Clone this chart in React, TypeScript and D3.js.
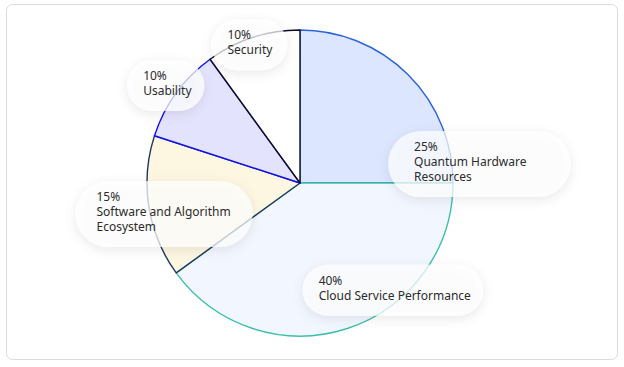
import React, { useRef, useEffect } from 'react';
import * as d3 from 'd3';

// slice data, clockwise from 12 o'clock
const categories = ['Quantum Hardware Resources', 'Cloud Service Performance', 'Software and Algorithm Ecosystem', 'Usability', 'Security'];
const values = [25, 40, 15, 10, 10];
const fills = ['#dce6ff', '#f2f6ff', '#fdf6e1', '#e3e3fd', '#ffffff'];
const strokes = ['#2a62d8', '#3dbfae', '#1b3a5e', '#1010ee', '#0c0c24'];
// label lines as drawn in the picture
const labelLines = [
    ['25%', 'Quantum Hardware', 'Resources'],
    ['40%', 'Cloud Service Performance'],
    ['15%', 'Software and Algorithm', 'Ecosystem'],
    ['10%', 'Usability'],
    ['10%', 'Security'],
];
// label offsets from slice centroid, and box padding
const labelOffsets = [[60, 22], [-5, 29], [-128, 6], [-95, -58], [-49, -71]];
const padRight = [44, 12, 22, 12, 14];
const padLeft = [26, 16, 21, 16, 16];

export default function App() {
    const svgRef = useRef(null);
    useEffect(function () {
        const width = 624, height = 367;
        const cx = 300, cy = 183, r = 153;
        const svg = d3.select(svgRef.current)
            .attr('width', width)
            .attr('height', height);
        svg.selectAll('*').remove();

        const defs = svg.append('defs');
        const f = defs.append('filter').attr('id', 'shadow')
            .attr('x', '-30%').attr('y', '-50%').attr('width', '160%').attr('height', '200%');
        f.append('feDropShadow')
            .attr('dx', 0).attr('dy', 3)
            .attr('stdDeviation', 6)
            .attr('flood-color', '#000')
            .attr('flood-opacity', 0.12);

        // card
        svg.append('rect')
            .attr('x', 6.5).attr('y', 4.5)
            .attr('width', 611).attr('height', 355)
            .attr('rx', 6)
            .attr('fill', '#fff')
            .attr('stroke', '#dcdcdc');

        const pie = d3.pie().sort(null).value(function (d) { return d; });
        const arcs = pie(values);
        const arc = d3.arc().innerRadius(0).outerRadius(r);

        const g = svg.append('g').attr('transform', 'translate(' + cx + ',' + cy + ')');
        g.selectAll('path.slice')
            .data(arcs)
            .enter().append('path')
            .attr('class', 'slice')
            .attr('d', arc)
            .attr('fill', function (d, i) { return fills[i]; })
            .attr('stroke', function (d, i) { return strokes[i]; })
            .attr('stroke-width', 1.4)
            .attr('stroke-linejoin', 'round');

        // labels
        const lineH = 15;
        arcs.forEach(function (d, i) {
            const c = arc.centroid(d);
            const tx = c[0] + labelOffsets[i][0];
            const ty = c[1] + labelOffsets[i][1];
            const lg = g.append('g');
            const box = lg.append('rect');
            let x0 = Infinity, x1 = -Infinity;
            labelLines[i].forEach(function (s, j) {
                const t = lg.append('text')
                    .attr('x', tx)
                    .attr('y', ty + j * lineH)
                    .attr('font-family', '"Noto Sans", "Open Sans", sans-serif')
                    .attr('font-size', 12)
                    .attr('fill', '#2b2b2b')
                    .text(s);
                const bb = t.node().getBBox();
                x0 = Math.min(x0, bb.x);
                x1 = Math.max(x1, bb.x + bb.width);
            });
            const n = labelLines[i].length;
            const top = ty - 12 - 8;
            const h = (n - 1) * lineH + 12 + 4 + 20;
            box.attr('x', x0 - padLeft[i])
                .attr('y', top)
                .attr('width', x1 - x0 + padLeft[i] + padRight[i])
                .attr('height', h)
                .attr('rx', h / 2)
                .attr('fill', '#fff')
                .attr('fill-opacity', 0.72)
                .attr('filter', 'url(#shadow)');
        });

        return function () {
            d3.select(svgRef.current).selectAll('*').remove();
        };
    }, []);
    return (<svg ref={svgRef} style={{ position: 'absolute', left: 0, top: 0 }}></svg>);
}
